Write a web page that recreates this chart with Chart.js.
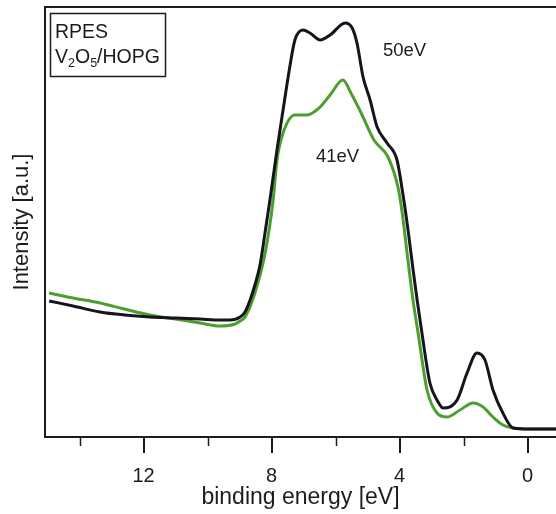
<!DOCTYPE html>
<html>
<head>
<meta charset="utf-8">
<script src="https://cdn.jsdelivr.net/npm/chart.js@4"></script>
<style>
  html, body { margin: 0; padding: 0; background: #fff; overflow: hidden; }
  #wrap { width: 556px; height: 514px; }
</style>
</head>
<body>
<div id="wrap"><canvas id="chartCanvas" width="556" height="514"></canvas></div>
<script>
/* ─── RPES V2O5/HOPG ─── */
const energy50 = [14.95, 14.2, 13.36, 12.6, 11.8, 11.0, 10.23, 9.61, 9.30, 8.98, 8.83, 8.67, 8.52, 8.36, 8.20, 8.05,
  7.83, 7.64, 7.42, 7.27, 7.02, 6.80, 6.48, 6.17, 5.70, 5.48, 5.33, 5.14, 4.92, 4.70, 4.39, 4.08,
  3.89, 3.73, 3.58, 3.45, 3.30, 3.05, 2.83, 2.64, 2.20, 1.89, 1.58, 1.33, 1.08, 0.77, 0.45, -0.08, -0.89];
const intensity50 = [136, 131, 125, 122, 120, 119, 118, 117, 117, 120, 125, 137, 152, 172, 205, 237,
  287, 327, 372, 397, 407, 404, 397, 402, 414, 409, 394, 360, 337, 310, 294, 277,
  242, 206, 168, 137, 104, 54, 37, 29, 37, 64, 84, 77, 47, 24, 9, 8, 8];

const energy41 = [14.95, 14.2, 13.36, 12.6, 11.8, 11.0, 10.23, 9.61, 9.14, 8.98, 8.83, 8.52, 8.20, 7.95,
  7.83, 7.64, 7.27, 6.89, 6.48, 6.17, 5.77, 5.52, 5.20, 4.80, 4.36, 4.05, 3.92, 3.75, 3.58, 3.42,
  3.14, 2.83, 2.52, 2.11, 1.70, 1.39, 1.08, 0.77, 0.45, -0.08, -0.89];
const intensity41 = [144, 139, 134, 128, 122, 118, 114, 111, 113, 116, 120, 144, 184, 237,
  277, 304, 322, 322, 330, 342, 357, 344, 324, 297, 280, 250, 225, 180, 137, 104,
  47, 24, 20, 27, 34, 30, 20, 12, 9, 8, 8];

const majorTicks = [12, 8, 4, 0];
const minorTicks = [14, 10, 6, 2];

const FONT = "'Liberation Sans', Arial, sans-serif";
const INK = '#1c1c1c';
const BLACK_LINE = '#15141f';
const GREEN_LINE = '#4c9e2e';

function toPoints(xs, ys) {
  return xs.map((x, i) => ({ x: x, y: ys[i] }));
}

/* ─── frame, tick marks and labels inside the plot ─── */
const decorations = {
  id: 'decorations',
  afterDraw(chart) {
    const ctx = chart.ctx;
    const area = chart.chartArea;
    const xs = chart.scales.x;
    ctx.save();
    ctx.strokeStyle = INK;
    ctx.lineCap = 'butt';

    // top frame line
    ctx.lineWidth = 2;
    ctx.beginPath();
    ctx.moveTo(area.left - 1, area.top);
    ctx.lineTo(area.right, area.top);
    ctx.stroke();

    // tick marks below the axis
    majorTicks.forEach(v => {
      const px = Math.round(xs.getPixelForValue(v));
      ctx.lineWidth = 2;
      ctx.beginPath();
      ctx.moveTo(px, area.bottom);
      ctx.lineTo(px, area.bottom + 16);
      ctx.stroke();
    });
    minorTicks.forEach(v => {
      const px = Math.round(xs.getPixelForValue(v)) + 0.5;
      ctx.lineWidth = 1.5;
      ctx.beginPath();
      ctx.moveTo(px, area.bottom);
      ctx.lineTo(px, area.bottom + 9);
      ctx.stroke();
    });

    // legend box
    ctx.lineWidth = 1.5;
    ctx.strokeRect(50.5, 13.5, 115, 63);
    ctx.fillStyle = INK;
    ctx.textBaseline = 'alphabetic';
    ctx.textAlign = 'left';
    ctx.font = '19.5px ' + FONT;
    ctx.fillText('RPES', 55, 38);
    let x = 55;
    const base = 63;
    const parts = [['V', false], ['2', true], ['O', false], ['5', true], ['/HOPG', false]];
    parts.forEach(([t, sub]) => {
      ctx.font = (sub ? '12.5px ' : '19.5px ') + FONT;
      ctx.fillText(t, x, sub ? base + 4 : base);
      x += ctx.measureText(t).width;
    });

    // photon energy labels
    ctx.font = '18.5px ' + FONT;
    ctx.fillText('50eV', 383, 56);
    ctx.fillText('41eV', 316, 162);
    ctx.restore();
  }
};

const ctx = document.getElementById('chartCanvas').getContext('2d');

new Chart(ctx, {
  type: 'line',
  data: {
    datasets: [
      {
        label: '50eV',
        data: toPoints(energy50, intensity50),
        borderColor: BLACK_LINE,
        borderWidth: 3,
        pointRadius: 0,
        cubicInterpolationMode: 'monotone',
        fill: false
      },
      {
        label: '41eV',
        data: toPoints(energy41, intensity41),
        borderColor: GREEN_LINE,
        borderWidth: 3,
        pointRadius: 0,
        cubicInterpolationMode: 'monotone',
        fill: false
      }
    ]
  },
  options: {
    responsive: false,
    animation: false,
    layout: { padding: { top: 7, left: 0, right: 0, bottom: 0 } },
    plugins: {
      legend: { display: false },
      tooltip: { enabled: false },
      title: { display: false }
    },
    scales: {
      x: {
        type: 'linear',
        reverse: true,
        min: -0.89,
        max: 15.08,
        afterBuildTicks: scale => { scale.ticks = majorTicks.map(v => ({ value: v })); },
        afterFit: scale => { scale.height = 77; },
        grid: { display: true, drawOnChartArea: false, drawTicks: true, tickLength: 16, tickColor: 'transparent' },
        border: { display: true, color: INK, width: 2 },
        ticks: {
          color: INK,
          padding: 11,
          maxRotation: 0,
          font: { size: 20, family: FONT }
        },
        title: {
          display: true,
          text: 'binding energy [eV]',
          color: INK,
          font: { size: 23, family: FONT },
          padding: { top: 0, bottom: 3 }
        }
      },
      y: {
        type: 'linear',
        min: 0,
        max: 430,
        afterFit: scale => { scale.width = 45; },
        grid: { display: false },
        border: { display: true, color: INK, width: 2 },
        ticks: { display: false },
        title: {
          display: true,
          text: 'Intensity [a.u.]',
          color: INK,
          font: { size: 22, family: FONT },
          padding: { top: 9, bottom: 0 }
        }
      }
    }
  },
  plugins: [decorations]
});
</script>
</body>
</html>
